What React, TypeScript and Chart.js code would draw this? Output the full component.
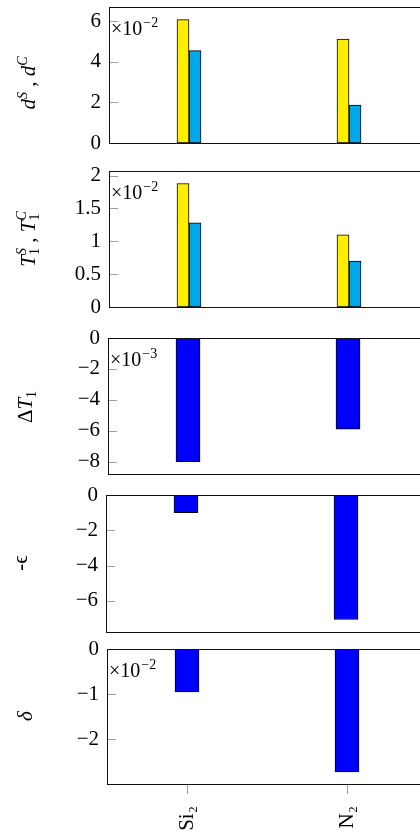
import React, { useEffect, useRef } from 'react';
import { Chart, registerables } from 'chart.js';

Chart.register(...registerables);

// ---------- data ----------
const categories = ['Si₂', 'N₂'];

const dS = [6.08, 5.12]; // ×10^-2
const dC = [4.55, 1.87]; // ×10^-2
const t1S = [1.88, 1.1]; // ×10^-2
const t1C = [1.28, 0.7]; // ×10^-2
const deltaT1 = [-8.0, -5.9]; // ×10^-3
const negEpsilon = [-1.0, -7.05];
const deltaVals = [-0.95, -2.72]; // ×10^-2

const ticksD = [0, 2, 4, 6];
const ticksT1 = [0, 0.5, 1, 1.5, 2];
const ticksDT1 = [0, -2, -4, -6, -8];
const ticksEps = [0, -2, -4, -6];
const ticksDelta = [0, -1, -2];

// ---------- style ----------
const SERIF = '"Liberation Serif", "DejaVu Serif", serif';
const FS = 21;
const YELLOW = '#FFEE00';
const CYAN = '#00A8EA';
const BLUE = '#0000FF';

type Piece = { t: string; i?: boolean; dy?: number; small?: boolean; adv?: boolean };

const panels = [
  {
    series: [
      { data: dS, color: YELLOW },
      { data: dC, color: CYAN },
    ],
    ticks: ticksD, min: 0, max: 6.7, exp: '−2', barW: 12,
    title: [
      { t: 'd', i: true }, { t: 'S', i: true, small: true, dy: 8 },
      { t: ' , ' },
      { t: 'd', i: true }, { t: 'C', i: true, small: true, dy: 8 },
    ] as Piece[],
    titleX: 35, titleY: 83, left: 109, top: 7, bottom: 143,
  },
  {
    series: [
      { data: t1S, color: YELLOW },
      { data: t1C, color: CYAN },
    ],
    ticks: ticksT1, min: 0, max: 2.07, exp: '−2', barW: 12,
    title: [
      { t: 'T', i: true }, { t: '1', small: true, dy: -4, adv: false }, { t: 'S', i: true, small: true, dy: 9 },
      { t: ' , ' },
      { t: 'T', i: true }, { t: '1', small: true, dy: -4, adv: false }, { t: 'C', i: true, small: true, dy: 9 },
    ] as Piece[],
    titleX: 35, titleY: 239, left: 109, top: 171, bottom: 307,
  },
  {
    series: [{ data: deltaT1, color: BLUE }],
    ticks: ticksDT1, min: -8.8, max: 0, exp: '−3', barW: 24,
    title: [{ t: 'Δ' }, { t: 'T', i: true }, { t: '1', small: true, dy: -4 }] as Piece[],
    titleX: 32, titleY: 407, left: 108, top: 338, bottom: 474,
  },
  {
    series: [{ data: negEpsilon, color: BLUE }],
    ticks: ticksEps, min: -7.76, max: 0, exp: null, barW: 24,
    title: [{ t: '-' }, { t: 'ϵ' }] as Piece[],
    titleX: 27, titleY: 563, left: 106, top: 495, bottom: 632,
  },
  {
    series: [{ data: deltaVals, color: BLUE }],
    ticks: ticksDelta, min: -2.99, max: 0, exp: '−2', barW: 24,
    title: [{ t: 'δ', i: true }] as Piece[],
    titleX: 32, titleY: 716, left: 107, top: 649, bottom: 784,
  },
];

function fontOf(pc: Piece) {
  return `${pc.i ? 'italic ' : ''}${pc.small ? 14 : FS}px ${SERIF}`;
}

function drawRich(ctx: CanvasRenderingContext2D, pieces: Piece[], x: number, yc: number) {
  ctx.save();
  ctx.translate(x, yc);
  ctx.rotate(-Math.PI / 2);
  ctx.textBaseline = 'alphabetic';
  ctx.textAlign = 'left';
  ctx.fillStyle = '#000';
  let total = 0;
  for (const pc of pieces) {
    ctx.font = fontOf(pc);
    if (pc.adv !== false) total += ctx.measureText(pc.t).width;
  }
  let cx = -total / 2;
  for (const pc of pieces) {
    ctx.font = fontOf(pc);
    ctx.fillText(pc.t, cx, -(pc.dy || 0));
    if (pc.adv !== false) cx += ctx.measureText(pc.t).width;
  }
  ctx.restore();
}

function fmt(v: number) {
  const a = Math.abs(v);
  const s = String(Math.round(a * 100) / 100);
  return v < 0 ? '−' + s : s;
}

function Panel({ p, last }: { p: (typeof panels)[number]; last: boolean }) {
  const ref = useRef<HTMLCanvasElement>(null);
  const padTop = 24;
  const padBottom = last ? 0 : 24;
  const xH = last ? 60 : 0;
  const canvasTop = p.top - padTop;
  const height = p.bottom - p.top + padTop + padBottom + xH;
  const width = p.left + 340;

  useEffect(() => {
    if (!ref.current) return;
    const deco = {
      id: 'deco',
      afterDatasetsDraw(chart: any) {
        const { ctx, chartArea: a } = chart;
        const ys = chart.scales.y;
        ctx.save();
        // inward tick marks
        ctx.strokeStyle = '#a0a0a0';
        ctx.lineWidth = 1;
        for (const v of p.ticks) {
          const py = Math.round(ys.getPixelForValue(v)) + 0.5;
          ctx.beginPath();
          ctx.moveTo(a.left, py);
          ctx.lineTo(a.left + 9, py);
          ctx.stroke();
        }
        // frame
        ctx.strokeStyle = '#111';
        ctx.strokeRect(
          Math.round(a.left) + 0.5,
          Math.round(a.top) + 0.5,
          Math.round(a.right - a.left),
          Math.round(a.bottom - a.top)
        );
        // multiplier
        if (p.exp) {
          ctx.fillStyle = '#000';
          ctx.textBaseline = 'alphabetic';
          ctx.textAlign = 'left';
          ctx.font = `20px ${SERIF}`;
          const bx = a.left + 2;
          const by = a.top + 28;
          ctx.fillText('×10', bx, by);
          const w = ctx.measureText('×10').width;
          ctx.font = `14px ${SERIF}`;
          ctx.fillText(p.exp, bx + w + 1, by - 8);
        }
        ctx.restore();
        // y title
        drawRich(ctx, p.title, p.titleX, p.titleY - canvasTop);
      },
    };

    const chart = new Chart(ref.current, {
      type: 'bar',
      data: {
        labels: categories,
        datasets: p.series.map((s) => ({
          data: s.data,
          backgroundColor: s.color,
          borderColor: '#000',
          borderWidth: 1,
          borderSkipped: false,
          barThickness: p.barW,
        })),
      },
      options: {
        responsive: false,
        animation: false,
        devicePixelRatio: 1,
        layout: { padding: { left: 0, right: 20, top: padTop, bottom: padBottom } },
        plugins: { legend: { display: false }, tooltip: { enabled: false } },
        scales: {
          x: {
            type: 'category',
            display: last,
            offset: true,
            grid: {
              display: true,
              drawOnChartArea: false,
              drawTicks: true,
              tickLength: 10,
              offset: false,
              color: '#a0a0a0',
            },
            border: { display: false },
            ticks: {
              minRotation: 90,
              maxRotation: 90,
              padding: 12,
              color: '#000',
              font: { family: SERIF, size: FS },
            },
            afterFit: (s: any) => {
              s.height = xH;
            },
          },
          y: {
            min: p.min,
            max: p.max,
            grid: { display: false, drawTicks: false },
            border: { display: false },
            ticks: {
              padding: 8,
              color: '#000',
              font: { family: SERIF, size: FS },
              callback: (v: any) => fmt(Number(v)),
            },
            afterBuildTicks: (s: any) => {
              s.ticks = p.ticks.map((v) => ({ value: v }));
            },
            afterFit: (s: any) => {
              s.width = p.left;
            },
          },
        },
      },
      plugins: [deco],
    } as any);
    return () => chart.destroy();
  }, []);

  return (
    <canvas
      ref={ref}
      width={width}
      height={height}
      style={{ position: 'absolute', left: 0, top: canvasTop, width, height, display: 'block' }}
    />
  );
}

export default function App() {
  return (
    <div
      style={{
        position: 'fixed',
        left: 0,
        top: 0,
        width: 420,
        height: 831,
        overflow: 'hidden',
        background: '#fff',
      }}
    >
      {panels.map((p, i) => (
        <Panel key={i} p={p} last={i === panels.length - 1} />
      ))}
    </div>
  );
}
